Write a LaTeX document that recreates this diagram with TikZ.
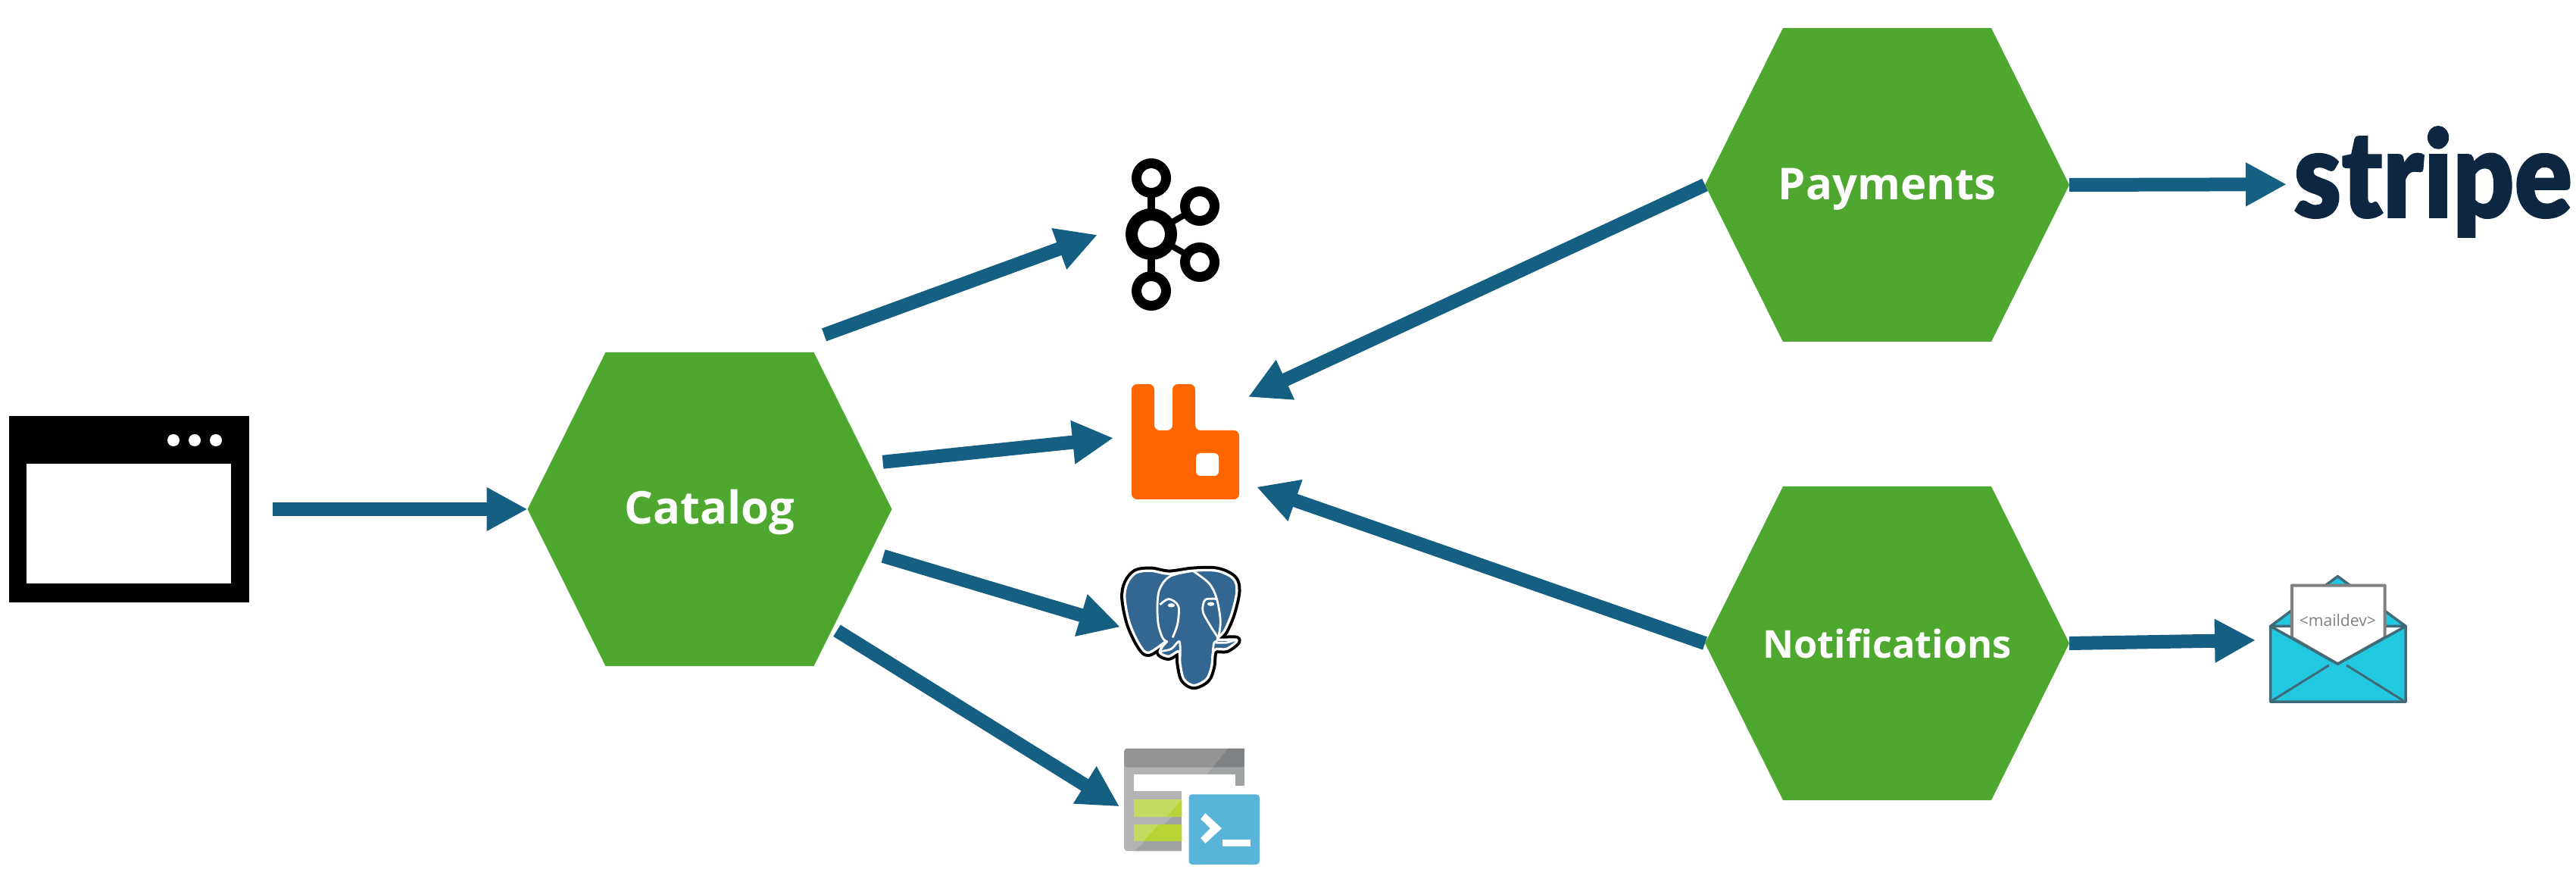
\documentclass[tikz,border=0pt]{standalone}
\usepackage{fontspec}
\setmainfont{Open Sans}
\newfontfamily\stripefont[FakeBold=1.2]{Lato Black}
\usetikzlibrary{arrows.meta,shapes.symbols}
\definecolor{hexgreen}{HTML}{4EA72E}
\definecolor{flowblue}{HTML}{156082}
\definecolor{rabbitorange}{HTML}{FF6600}
\definecolor{pgblue}{HTML}{336791}
\definecolor{stripenavy}{HTML}{0D2742}
\definecolor{mailteal}{HTML}{22C7E0}
\definecolor{mailedge}{HTML}{3F6B78}
\definecolor{tablegrey}{HTML}{B3B3B3}
\definecolor{tablehead}{HTML}{949494}
\definecolor{tabledark}{HTML}{7F8285}
\definecolor{tableshade}{HTML}{9FA3A4}
\definecolor{tablelime}{HTML}{C3DB5F}
\definecolor{tablegreen}{HTML}{B8D432}
\definecolor{shellblue}{HTML}{59B4D9}
\tikzset{
  service/.style={signal,signal to=east and west,signal pointer angle=127.1,fill=hexgreen,text=white,
    minimum width=4.81cm,minimum height=4.14cm,inner sep=0pt,outer sep=0pt,
    text height=.5cm,text depth=.11cm},
  iconbox/.style={inner sep=0pt,outer sep=0pt},
  flow/.style={flowblue,line width=.18cm,-{Triangle[length=.54cm,width=.54cm]}},
  zoomed/.style={x=.003333cm,y=-.003333cm}
}
\newcommand{\hexlabel}[2]{\makebox[2cm]{\fontsize{#1}{20}\selectfont\bfseries #2}}
\newcommand{\elephantpath}{plot[smooth cycle,tension=.55] coordinates {(372,112) (465,100) (560,100) (625,130) (640,180) (620,270) (590,340) (565,372) (640,375) (600,410) (550,415) (540,480) (520,530) (470,555) (430,530) (415,470) (410,420) (370,440) (335,425) (345,400) (360,380) (290,425) (255,395) (215,310) (195,210) (205,150) (240,108) (300,100)}}
\begin{document}
\begin{tikzpicture}[x=1cm,y=-1cm]
\useasboundingbox (0,0) rectangle (34.01,11.64);
\node (catalog) [service] at (9.37,6.72) {\hexlabel{17}{Catalog}};
\node (payments) [service] at (24.915,2.44) {\hexlabel{16.5}{Payments}};
\node (notifications) [service] at (24.915,8.49) {\hexlabel{14.4}{Notifications}};
\node (browser) [iconbox,fill=black,minimum width=3.17cm,minimum height=2.45cm] at (1.701,6.72) {};
\node (kafka) [iconbox,minimum width=1.24cm,minimum height=2.01cm] at (15.48,3.095) {};
\node (rabbit) [iconbox,minimum width=1.42cm,minimum height=1.52cm] at (15.65,5.83) {};
\node (postgres) [iconbox,minimum width=1.57cm,minimum height=1.62cm] at (15.595,8.28) {};
\node (tablestore) [iconbox,minimum width=1.79cm,minimum height=1.54cm] at (15.735,10.65) {};
\node (stripe) [iconbox,text=stripenavy] at (32.12,2.4) {\resizebox*{3.68cm}{1.46cm}{\stripefont stripe}};
\node (mail) [iconbox,minimum width=1.79cm,minimum height=1.67cm] at (30.875,8.445) {};
% browser window
\fill[white] (.353,6.12) rectangle (3.045,7.7);
\foreach \x in {2.29,2.57,2.85} \fill[white] (\x,5.81) circle (.08);
% kafka
\draw[line width=.105cm] (15.2,2.35) -- (15.2,3.84);
\draw[line width=.08cm] (15.84,2.72) -- (15.2,3.09) -- (15.84,3.46);
\draw[line width=.16cm,fill=white] (15.2,3.09) circle (.26);
\foreach \x/\y in {15.2/2.35,15.84/2.72,15.84/3.46,15.2/3.84} \draw[line width=.13cm,fill=white] (\x,\y) circle (.195);
% rabbitmq
\fill[rabbitorange,rounded corners=.07cm] (14.94,5.07) -- (15.24,5.07) -- (15.24,5.68) -- (15.48,5.68) -- (15.48,5.07) -- (15.78,5.07) -- (15.78,5.68) -- (16.36,5.68) -- (16.36,6.59) -- (14.94,6.59) -- cycle;
\fill[white,rounded corners=.06cm] (15.79,5.98) rectangle (16.09,6.28);
% postgres
\begin{scope}[shift={(14.2,7.2)},zoomed,line join=round]
\draw[black,line width=.113cm] \elephantpath;
\fill[pgblue] \elephantpath;
\draw[white,line width=.033cm] \elephantpath;
\draw[white,line width=.028cm] plot[smooth,tension=.55] coordinates {(465,100) (375,122) (335,170) (325,230) (328,310) (345,365) (365,385)};
\draw[white,line width=.028cm] plot[smooth,tension=.55] coordinates {(465,100) (530,150) (560,210) (575,300) (565,370) (550,385) (545,420)};
\draw[white,line width=.028cm] plot[smooth,tension=.55] coordinates {(335,235) (370,212) (408,240) (405,310) (385,365)};
\draw[white,line width=.028cm] plot[smooth,tension=.55] coordinates {(560,212) (515,215) (505,260) (530,310) (565,365)};
\draw[white,line width=.028cm] plot[smooth,tension=.55] coordinates {(335,420) (380,410) (412,380) (415,440)};
\draw[white,line width=.028cm] plot[smooth,tension=.55] coordinates {(555,385) (600,385) (640,372)};
\fill[white] (380,237) ellipse (14 and 8);
\fill[white] (537,232) ellipse (14 and 8);
\end{scope}
% table with shell
\begin{scope}[shift={(14.2,7.2)},zoomed]
\fill[tablegrey,rounded corners=.04cm] (193,805) rectangle (670,1212);
\fill[tablehead,rounded corners=.04cm] (193,805) rectangle (670,880);
\fill[tabledark] (605,805) -- (545,880) -- (670,880) -- (670,805) -- cycle;
\fill[tableshade] (545,880) -- (520,908) -- (670,908) -- (670,880) -- cycle;
\fill[tableshade] (633,908) rectangle (670,952);
\fill[tableshade] (385,1075) -- (235,1212) -- (422,1212) -- (422,1075) -- cycle;
\fill[white] (231,908) rectangle (633,975);
\fill[white] (422,975) rectangle (740,1270);
\fill[white] (633,952) rectangle (740,975);
\fill[tablelime] (231,1008) rectangle (422,1075);
\fill[tablelime] (231,1106) rectangle (422,1173);
\fill[tablegreen] (365,1075) -- (422,1008) -- (422,1075) -- cycle;
\fill[tablegreen] (270,1173) -- (332,1106) -- (422,1106) -- (422,1173) -- cycle;
\fill[shellblue,rounded corners=.04cm] (450,987) rectangle (730,1265);
\fill[white] (497,1085) -- (515,1062) -- (580,1122) -- (515,1182) -- (497,1160) -- (535,1122) -- cycle;
\fill[white] (582,1167) rectangle (695,1193);
\end{scope}
% maildev
\begin{scope}[shift={(29.5,7.3)},zoomed,line join=round]
\draw[mailedge,fill=mailteal,line width=.035cm] (143,290) -- (410,92) -- (680,290) -- cycle;
\draw[gray,fill=white,line width=.04cm] (228,128) -- (597,128) -- (597,335) -- (410,440) -- (228,335) -- cycle;
\node (maillabel) [iconbox,text=gray,font=\fontsize{6}{6}\selectfont] at (410,265) {<maildev>};
\draw[mailedge,fill=mailteal,line width=.035cm] (143,290) -- (410,440) -- (680,290) -- (680,590) -- (143,590) -- cycle;
\draw[mailedge,line width=.03cm] (150,585) -- (375,445);
\draw[mailedge,line width=.03cm] (670,585) -- (445,445);
\end{scope}
% connectors
\draw[flow,shorten <=.314cm] (browser.east) -- (catalog.west);
\draw[flow,shorten <=.673cm,shorten >=.394cm] (catalog.67.4) -- (kafka.168.2);
\draw[flow,shorten <=.182cm,shorten >=.241cm] (catalog.16.5) -- (rabbit.174);
\draw[flow,shorten <=.176cm,shorten >=.02cm] (catalog.-15.9) -- (postgres.west);
\draw[flow,shorten <=.064cm,shorten >=.07cm] (catalog.-44.7) -- (tablestore.182.4);
\draw[flow,shorten >=.132cm] (payments.west) -- (rabbit.37.5);
\draw[flow,shorten >=.244cm] (notifications.west) -- (rabbit.-36.2);
\draw[flow,shorten >=.09cm] (payments.east) -- (stripe.181.245);
\draw[flow,shorten >=.2cm] (notifications.east) -- (mail.west);
\end{tikzpicture}
\end{document}
